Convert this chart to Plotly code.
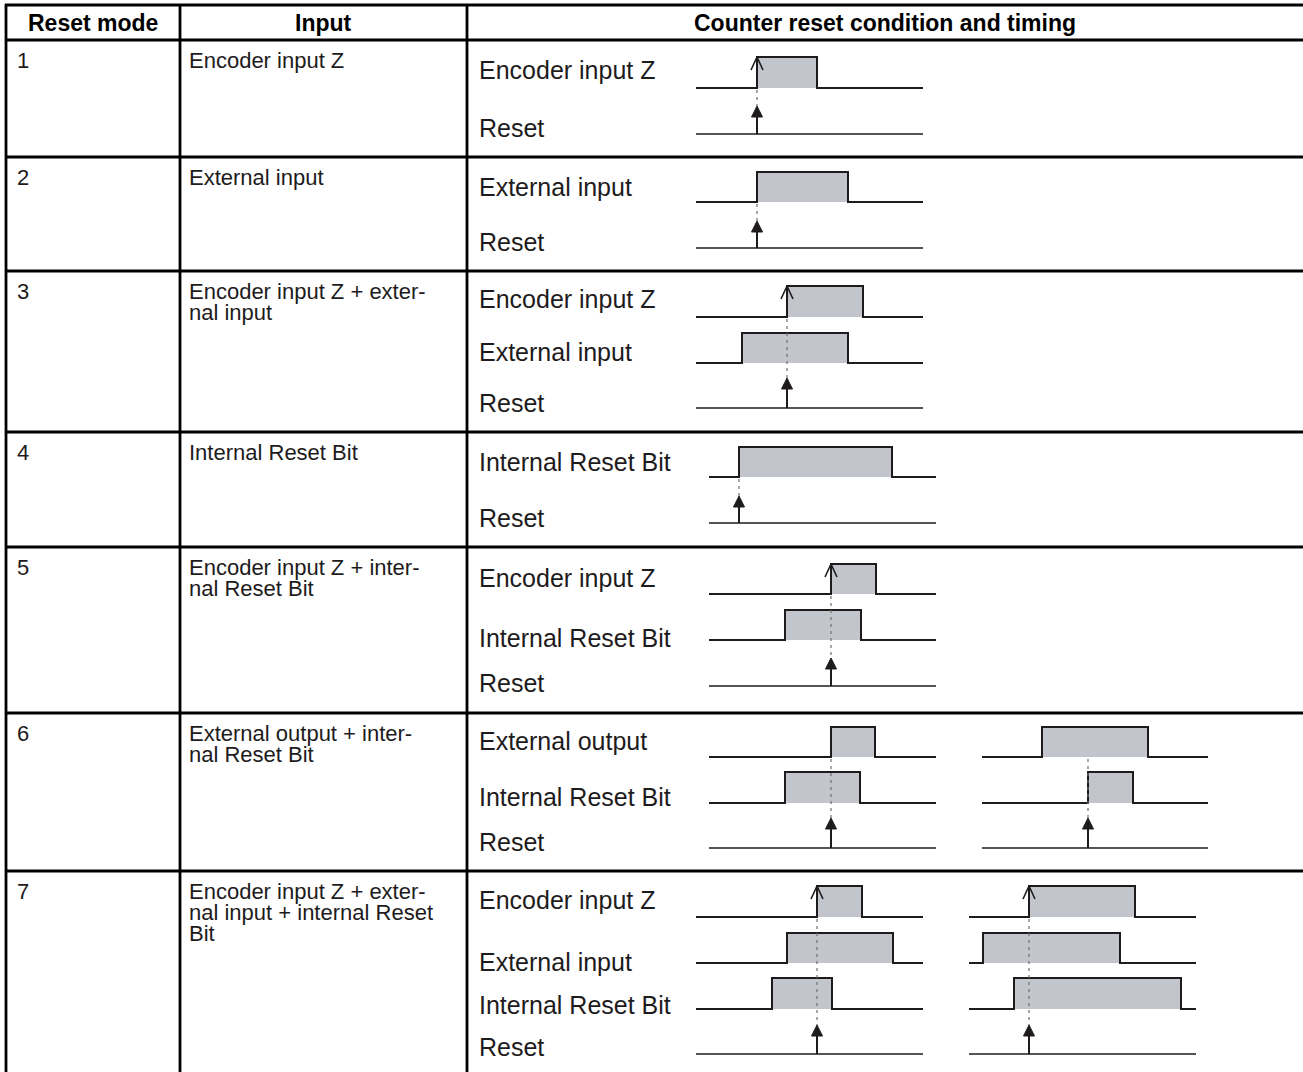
import plotly.graph_objects as go

W, H = 1303, 1072

# ---------------- table content ----------------
header_labels = ["Reset mode", "Input", "Counter reset condition and timing"]
reset_modes = ["1", "2", "3", "4", "5", "6", "7"]
input_lines = [
    ["Encoder input Z"],
    ["External input"],
    ["Encoder input Z + exter-", "nal input"],
    ["Internal Reset Bit"],
    ["Encoder input Z + inter-", "nal Reset Bit"],
    ["External output + inter-", "nal Reset Bit"],
    ["Encoder input Z + exter-", "nal input + internal Reset", "Bit"],
]

# ---------------- timing data ----------------
# per diagram: signals as (name, rise time, fall time, open arrow on rise), and reset time
# times are measured along each diagram's own time axis (0 .. timeline length)
timing_1 = [("Encoder input Z", 61, 121, True)]
reset_1 = 61
timing_2 = [("External input", 61, 152, False)]
reset_2 = 61
timing_3 = [("Encoder input Z", 91, 167, True), ("External input", 46, 152, False)]
reset_3 = 91
timing_4 = [("Internal Reset Bit", 30, 183, False)]
reset_4 = 30
timing_5 = [("Encoder input Z", 122, 167, True), ("Internal Reset Bit", 76, 152, False)]
reset_5 = 122
timing_6a = [("External output", 122, 166, False), ("Internal Reset Bit", 76, 151, False)]
reset_6a = 122
timing_6b = [("External output", 60, 166, False), ("Internal Reset Bit", 106, 151, False)]
reset_6b = 106
timing_7a = [("Encoder input Z", 121, 166, True), ("External input", 91, 197, False),
             ("Internal Reset Bit", 76, 136, False)]
reset_7a = 121
timing_7b = [("Encoder input Z", 60, 166, True), ("External input", 14, 151, False),
             ("Internal Reset Bit", 45, 212, False)]
reset_7b = 60

# ---------------- geometry / style ----------------
INK = "#1e1b1c"
FILL = "rgb(195,197,204)"
DASH = "#6e6e6e"
FONT = "Liberation Sans, Arial, Helvetica, sans-serif"

col_x = [6, 180, 467]
row_lines = [5, 40, 157, 271, 432, 547, 713, 871]
row_tops = row_lines[1:]

# diagram placement: (timing, reset time, x origin, timeline length,
#   [(low y, high y, label y) per signal], (reset base y, tip y, label y), show labels)
diagrams = [
    (timing_1, reset_1, 696, 227, [(88, 57, 70)], (134, 106, 128), True),
    (timing_2, reset_2, 696, 227, [(202, 172, 187)], (248, 221, 242), True),
    (timing_3, reset_3, 696, 227, [(317, 286, 299), (363, 333, 352)], (408, 378, 403), True),
    (timing_4, reset_4, 709, 227, [(477, 447, 462)], (523, 496, 518), True),
    (timing_5, reset_5, 709, 227, [(594, 564, 578), (640, 610, 638)], (686, 658, 683), True),
    (timing_6a, reset_6a, 709, 227, [(757, 727, 741), (803, 772, 797)], (848, 818, 842), True),
    (timing_6b, reset_6b, 982, 226, [(757, 727, 741), (803, 772, 797)], (848, 818, 842), False),
    (timing_7a, reset_7a, 696, 227, [(917, 886, 900), (963, 933, 962), (1009, 978, 1005)],
     (1054, 1025, 1047), True),
    (timing_7b, reset_7b, 969, 227, [(917, 886, 900), (963, 933, 962), (1009, 978, 1005)],
     (1054, 1025, 1047), False),
]

fig = go.Figure()
annotations = []
shapes = []


def text_ann(x, y, text, size, xanchor="left", color=INK):
    annotations.append(dict(x=x, y=y, xref="x", yref="y", text=text, showarrow=False,
                            xanchor=xanchor, yanchor="middle",
                            font=dict(size=size, color=color, family=FONT)))


def line_trace(xs, ys, width=1.8, color=INK, dash=None):
    fig.add_trace(go.Scatter(x=xs, y=ys, mode="lines", hoverinfo="skip", showlegend=False,
                             line=dict(color=color, width=width, dash=dash)))


for timing, rt, x0, length, levels, reset_geo, show_labels in diagrams:
    for (name, rise, fall, open_arrow), (low, high, ly) in zip(timing, levels):
        xr, xf, xe = x0 + rise, x0 + fall, x0 + length
        fig.add_trace(go.Scatter(x=[xr, xr, xf, xf, xr], y=[low, high, high, low, low],
                                 mode="none", fill="toself", fillcolor=FILL,
                                 hoverinfo="skip", showlegend=False))
        line_trace([x0, xr, xr, xf, xf, xe], [low, low, high, high, low, low], width=2)
        if open_arrow:
            line_trace([xr - 6, xr, xr + 6], [high + 13, high, high + 13], width=1.6)
        if show_labels:
            text_ann(477, ly, name, 25)
    base, tip, rly = reset_geo
    xt = x0 + rt
    first_low = levels[0][0]
    line_trace([xt, xt], [first_low + 2, tip], width=1.2, color=DASH, dash="3px,4px")
    line_trace([x0, x0 + length], [base, base], width=1.5)
    line_trace([xt, xt], [tip + 8, base], width=2)
    fig.add_trace(go.Scatter(x=[xt - 5.5, xt, xt + 5.5, xt - 5.5], y=[tip + 11, tip, tip + 11, tip + 11],
                             mode="lines", fill="toself", fillcolor=INK,
                             line=dict(color=INK, width=1), hoverinfo="skip", showlegend=False))
    if show_labels:
        text_ann(477, rly, "Reset", 25)

# table grid
LW = 2.8
for y in row_lines:
    shapes.append(dict(type="line", xref="x", yref="y", x0=col_x[0] - 1, x1=W + 2, y0=y, y1=y,
                       line=dict(color="black", width=LW)))
for x in col_x:
    shapes.append(dict(type="line", xref="x", yref="y", x0=x, x1=x, y0=row_lines[0] - 1, y1=H + 2,
                       line=dict(color="black", width=LW)))

# header texts
hdr_centers = [(col_x[0] + col_x[1]) / 2, (col_x[1] + col_x[2]) / 2, (col_x[2] + W) / 2]
for txt, cx in zip(header_labels, hdr_centers):
    text_ann(cx, 23, "<b>" + txt + "</b>", 23, xanchor="center", color="black")

# row texts
for mode, lines, top in zip(reset_modes, input_lines, row_tops):
    text_ann(15, top + 20, mode, 22)
    for k, ln in enumerate(lines):
        text_ann(187, top + 20 + 21 * k, ln, 22)

fig.update_layout(
    width=W, height=H, margin=dict(l=0, r=0, t=0, b=0),
    paper_bgcolor="white", plot_bgcolor="white",
    xaxis=dict(range=[0, W], visible=False, fixedrange=True),
    yaxis=dict(range=[H, 0], visible=False, fixedrange=True),
    annotations=annotations, shapes=shapes, hovermode=False, showlegend=False,
)

fig.write_html("out.html", config={"displayModeBar": False, "staticPlot": True},
               post_script="document.body.style.margin='0';document.body.style.overflow='hidden';")
